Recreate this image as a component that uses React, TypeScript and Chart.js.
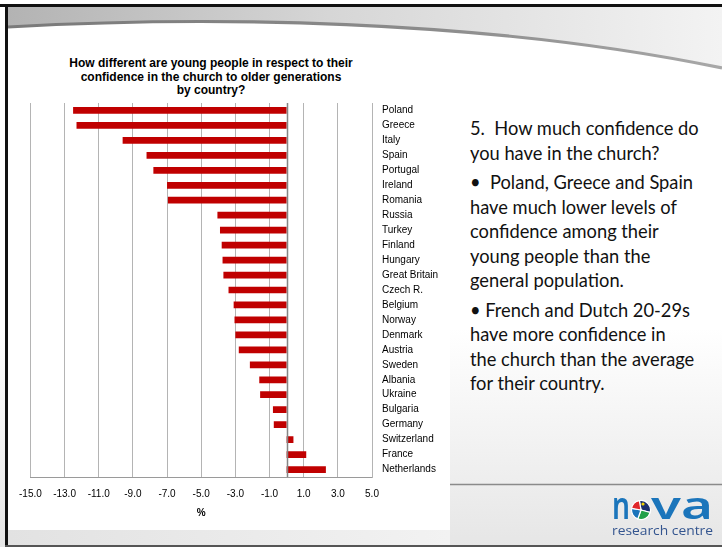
import React, { useEffect, useRef } from "react";
import { Chart, registerables } from "chart.js";

Chart.register(...registerables);

// Countries, top to bottom
const countries = [
  "Poland", "Greece", "Italy", "Spain", "Portugal", "Ireland", "Romania",
  "Russia", "Turkey", "Finland", "Hungary", "Great Britain", "Czech R.",
  "Belgium", "Norway", "Denmark", "Austria", "Sweden", "Albania", "Ukraine",
  "Bulgaria", "Germany", "Switzerland", "France", "Netherlands",
];

// Difference in confidence in the church, young people vs. older generations (%)
const differences = [
  -12.5, -12.3, -9.6, -8.2, -7.8, -7.0, -6.95,
  -4.05, -3.9, -3.8, -3.75, -3.7, -3.4,
  -3.1, -3.05, -3.0, -2.8, -2.15, -1.6, -1.55,
  -0.8, -0.75, 0.4, 1.15, 2.3,
];

// Value axis
const axisMin = -15;
const axisMax = 5;
const axisStep = 2;
const axisTitle = "%";

const chartTitle = [
  "How different are young people in respect to their",
  "confidence in the church to older generations",
  "by country?",
];

const notes: string[][] = [
  ["5.  How much confidence do", "you have in the church?"],
  [
    "\u2022  Poland, Greece and Spain",
    "have much lower levels of",
    "confidence among their",
    "young people than the",
    "general population.",
  ],
  [
    "\u2022 French and Dutch 20-29s",
    "have more confidence in",
    "the church than the average",
    "for their country.",
  ],
];

const labelFont = '"Liberation Sans", Arial, sans-serif';
const noteFont = 'Lato, "Open Sans", sans-serif';

const zeroLine = {
  id: "zeroLine",
  afterDatasetsDraw(chart: any) {
    const { ctx, chartArea, scales } = chart;
    const px = Math.round(scales.x.getPixelForValue(0)) + 0.5;
    ctx.save();
    ctx.strokeStyle = "#858585";
    ctx.lineWidth = 1.5;
    ctx.beginPath();
    ctx.moveTo(px, chartArea.top);
    ctx.lineTo(px, chartArea.bottom);
    ctx.stroke();
    ctx.restore();
  },
};

function BarChart() {
  const ref = useRef<HTMLCanvasElement | null>(null);
  useEffect(() => {
    if (!ref.current) return;
    const chart = new Chart(ref.current, {
      type: "bar",
      data: {
        labels: countries,
        datasets: [
          {
            data: differences,
            backgroundColor: "#c00000",
            borderWidth: 0,
            barPercentage: 0.45,
            categoryPercentage: 1,
          },
        ],
      },
      options: {
        indexAxis: "y",
        responsive: false,
        animation: false,
        layout: { padding: { left: 20, top: 15, right: 0, bottom: 0 } },
        plugins: {
          legend: { display: false },
          title: { display: false },
          tooltip: { enabled: false },
        },
        scales: {
          x: {
            type: "linear",
            min: axisMin,
            max: axisMax,
            ticks: {
              stepSize: axisStep,
              callback: (v: any) => Number(v).toFixed(1),
              color: "#000",
              font: { family: labelFont, size: 10 },
              padding: 11,
              maxRotation: 0,
              autoSkip: false,
            },
            grid: { color: "#b4b4b4", drawTicks: false, lineWidth: 1 },
            border: { color: "#9a9a9a", width: 1 },
            title: {
              display: true,
              text: axisTitle,
              color: "#000",
              font: { family: labelFont, size: 10, weight: "bold" },
              padding: { top: 4, bottom: 11 },
            },
            afterFit: (s: any) => {
              s.height = 53;
            },
          },
          y: {
            position: "right",
            grid: { display: false, drawTicks: false },
            border: { display: true, color: "#b4b4b4" },
            ticks: {
              color: "#000",
              font: { family: labelFont, size: 10 },
              padding: 10,
              autoSkip: false,
            },
            afterFit: (s: any) => {
              s.width = 78;
            },
          },
        },
      } as any,
      plugins: [zeroLine],
    });
    return () => chart.destroy();
  }, []);
  return (
    <canvas
      ref={ref}
      width={442}
      height={443}
      style={{ position: "absolute", left: 8, top: 87, width: 442, height: 443 }}
    />
  );
}

function Logo() {
  const cx = 641;
  const cy = 510;
  const r = 9.5;
  const wedge = (a0: number, a1: number, fill: string) => {
    const rad = (a: number) => (a * Math.PI) / 180;
    const x0 = cx + r * Math.cos(rad(a0));
    const y0 = cy + r * Math.sin(rad(a0));
    const x1 = cx + r * Math.cos(rad(a1));
    const y1 = cy + r * Math.sin(rad(a1));
    const large = a1 - a0 > 180 ? 1 : 0;
    return (
      <path
        d={`M${cx},${cy} L${x0},${y0} A${r},${r} 0 ${large} 1 ${x1},${y1} Z`}
        fill={fill}
        stroke="#fff"
        strokeWidth={1.2}
      />
    );
  };
  return (
    <svg
      width={722}
      height={547}
      style={{ position: "absolute", left: 0, top: 0, pointerEvents: "none" }}
    >
      <text
        x={612}
        y={519}
        fontFamily='"Noto Sans", "DejaVu Sans", sans-serif'
        fontWeight={600}
        fontSize={38}
        fill="#1b75bb"
        textLength={18}
        lengthAdjust="spacingAndGlyphs"
      >
        n
      </text>
      {wedge(-100, 15, "#1d2f6e")}
      {wedge(15, 110, "#23a049")}
      {wedge(110, 190, "#1b75bb")}
      {wedge(190, 260, "#e0262a")}
      <circle cx={643} cy={504} r={1.6} fill="#f5d300" />
      <text
        x={651}
        y={519}
        fontFamily='"Noto Sans", "DejaVu Sans", sans-serif'
        fontWeight={600}
        fontSize={38}
        fill="#1b75bb"
        textLength={62}
        lengthAdjust="spacingAndGlyphs"
      >
        va
      </text>
      <text
        x={612}
        y={535}
        fontFamily='"Open Sans", sans-serif'
        fontSize={13}
        fill="#34558f"
        textLength={101}
        lengthAdjust="spacingAndGlyphs"
      >
        research centre
      </text>
    </svg>
  );
}

function Frame() {
  const curve = "M8,27 C200,16 480,18 722,68";
  return (
    <svg width={722} height={547} style={{ position: "absolute", left: 0, top: 0 }}>
      <defs>
        <linearGradient id="band" x1="0" y1="0" x2="1" y2="0">
          <stop offset="0" stopColor="#b3b3b3" />
          <stop offset="0.45" stopColor="#d6d6d6" />
          <stop offset="1" stopColor="#f3f3f3" />
        </linearGradient>
        <linearGradient id="swoosh" x1="0" y1="0" x2="1" y2="0">
          <stop offset="0" stopColor="#7a7a7a" />
          <stop offset="0.6" stopColor="#8c8c8c" />
          <stop offset="1" stopColor="#a8a8a8" />
        </linearGradient>
        <linearGradient id="floor" x1="0" y1="0" x2="0" y2="1">
          <stop offset="0" stopColor="#ffffff" />
          <stop offset="0.6" stopColor="#ffffff" />
          <stop offset="1" stopColor="#e6e6e6" />
        </linearGradient>
        <linearGradient id="strip" x1="0" y1="0" x2="1" y2="0">
          <stop offset="0" stopColor="#e2e2e2" />
          <stop offset="1" stopColor="#f2f2f2" />
        </linearGradient>
      </defs>
      <rect x={0} y={0} width={722} height={547} fill="url(#floor)" />
      <rect x={8} y={528} width={442} height={18} fill="url(#strip)" />
      <rect x={8} y={30} width={442} height={500} fill="#ffffff" />
      <path d={`M8,7 L722,7 L722,68 C480,18 200,16 8,27 Z`} fill="url(#band)" />
      <path d={curve} stroke="url(#swoosh)" strokeWidth={3.2} fill="none" />
      <line x1={450} y1={484.5} x2={722} y2={484.5} stroke="#8a8a8a" strokeWidth={1.6} />
      <rect x={0} y={4} width={722} height={3} fill="#111" />
      <rect x={5} y={4} width={3} height={543} fill="#111" />
      <rect x={5} y={545} width={717} height={2} fill="#555" />
    </svg>
  );
}

export default function App() {
  return (
    <div
      style={{
        position: "absolute",
        left: 0,
        top: 0,
        width: 722,
        height: 547,
        overflow: "hidden",
        background: "#fff",
      }}
    >
      <Frame />
      <div
        style={{
          position: "absolute",
          left: 11,
          top: 57,
          width: 400,
          textAlign: "center",
          fontFamily: labelFont,
          fontWeight: "bold",
          fontSize: 12,
          lineHeight: "13.5px",
          color: "#000",
        }}
      >
        {chartTitle.map((t) => (
          <div key={t}>{t}</div>
        ))}
      </div>
      <BarChart />
      <div
        style={{
          position: "absolute",
          left: 470,
          top: 116,
          fontFamily: noteFont,
          fontSize: 18.3,
          lineHeight: "24.5px",
          color: "#111",
          whiteSpace: "pre",
        }}
      >
        {notes.map((para, i) => (
          <div key={i} style={{ marginTop: i === 0 ? 0 : 5 }}>
            {para.map((line) => (
              <div key={line}>{line}</div>
            ))}
          </div>
        ))}
      </div>
      <Logo />
    </div>
  );
}
